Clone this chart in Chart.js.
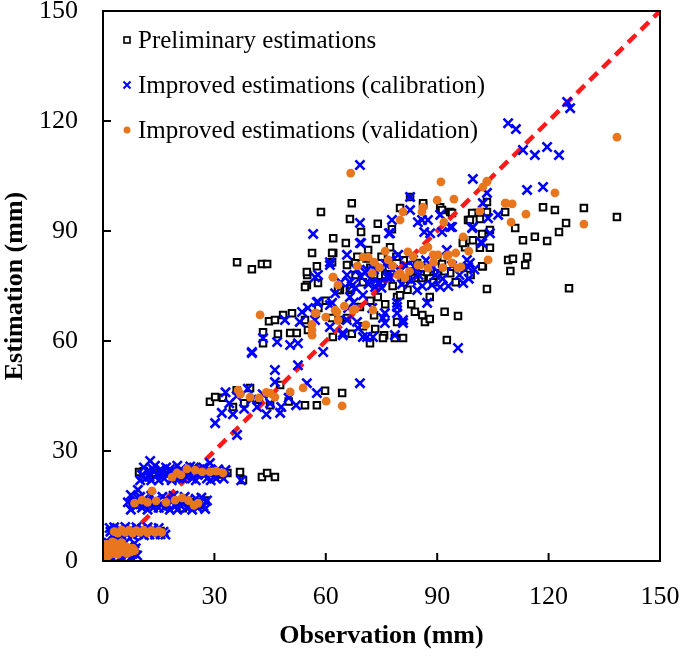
<!DOCTYPE html>
<html>
<head>
<meta charset="utf-8">
<script src="https://cdn.jsdelivr.net/npm/chart.js@4.4.0/dist/chart.umd.min.js"></script>
<style>
  html, body { margin: 0; padding: 0; background: #fff; }
  #wrap { width: 685px; height: 656px; }
</style>
</head>
<body>
<div id="wrap"><canvas id="chart"></canvas></div>
<script>
const xTicks = [0, 30, 60, 90, 120, 150];
const yTicks = [0, 30, 60, 90, 120, 150];
const seriesNames = ['Preliminary estimations', 'Improved estimations (calibration)', 'Improved estimations (validation)'];
const oneToOne = [[0, 0], [150, 150]];

// [observation, estimation] pairs
const preliminary = [
  [1,2],[2,4],[3,2.5],[4,3.5],[5,2],[6,3],[7,2.5],[8,3],[8.5,2],
  [4,8],[7,8],[10,8],[13,8],[15.5,8.2],
  [8,16],[11,15.5],[14,16],[17,15.5],[20,16],[21.5,14.4],[24.8,16],[26.5,15.2],[27.5,16.5],
  [9.7,24.3],[11,24.5],[14,24],[17,24.5],[20,24],[23,24.5],[26,24],[29,24],[32,23.6],[33.5,24],
  [36.9,24.3],[37.7,22.1],[42.8,22.9],[44.2,24],[46.3,22.9],
  [28.8,43.4],[30.2,44.7],[32.3,44.5],[36,46.6],[39.6,47.2],[47.7,48],[59.8,46.4],[64.4,45.8],[54.4,42.5],[57.6,42.5],[38,43],[42,44],[45,42.5],[50,43.5],[35,42],
  [43.1,62.4],[44.7,65.4],[46.3,65.7],[47.1,61.9],[48.5,67.1],[50.9,67.6],[50.4,62.2],[52.2,62.2],[54.4,65.7],[43.1,59.4],[54.9,75.3],[57.9,75.8],[63.8,73.9],[55.2,63],[61.9,61.1],[65.7,66.3],[63.8,65.7],[61.7,66.3],[69.2,69.3],[73.3,63.3],[71.9,59.4],[75.7,61.6],[78.6,60.8],[79.2,72],[86,67.1],[86.7,65.2],[92,68],[92.6,60.3],[95.6,66.8],[80.8,60.8],[75.4,60.8],[66.5,73.9],[63.3,73.9],[54.4,74.7],[55,78],[57.6,80.4],[61.7,81.5],[62,84],[65.7,80.7],[56.3,84],[61.7,84],[54.9,78.8],
  [36.1,81.5],[40.1,79.6],[42.8,81],[44.2,81],
  [67,97.6],[58.7,95.2],[66.5,93.3],[69.5,89.7],[73.5,87.8],[65.4,86.7],[77.3,85.6],[71.4,84.8],[67.9,81.5],[66.8,74.4],[80,96.3],[77.8,90.5],[82.7,99.3],[86.2,97.1],[90.8,96.5],[93.5,95.2],[98.3,93],[100.7,94.9],[108.3,95.2],[103.4,97.9],[111,90.8],[113.1,87.5],[116.3,88.4],[119.6,87.3],[118.5,96.5],[121.7,95.7],[124.7,92.2],[122.8,89.7],[129.5,96.3],[138.4,93.8],[125.5,74.4],[103.4,74.2],[109.1,82.1],[110.4,82.4],[109.7,79.1],[114.2,82.9],[113.7,80.7],[102.3,80.4],[104.2,90.3],[104.2,85.4],[97.5,85.6],[99.6,87.5],[97,87.5],[101.5,85.4],[102.1,89.2],[91.3,95.7],[94,94.9],[99.4,94.9],[98.8,93],[101.5,93.3],[103.4,95.2],[86.2,97.6],[84,77.2],[85.9,77.2],[88.1,77.2],[84.6,81.3],[90,82.1],[93.5,78.5],[96.9,86.7],[90,78.5],[91.3,81],[87.3,78.8],[102.1,80.4],[79.2,65.2],[80,72.5],
  [70,76],[72,80],[74,72],[76,78],[78,75],[82,74],[68,78],[83,70],[88,72],[73,67],[81,82],[75,83],
  [68.5,83],[71,82.5],[73,78],[75,76],[77,80],[79,83],[81,76],[83,79],[86,80],[89,76],[92,79],[95,76],[97,80],[99,78],[72,71],[76,70],[84,68],[88,66],[67,62],[70,64],[58,69],[60,71],[62,88],[74,92]
];

const calibration = [
  [0.5,1],[1,3],[1.5,5],[2,1.5],[2.5,4],[3,5.5],[3.5,2],[4,4.5],[5,1],[5.5,3.5],[6.5,1.5],[7,4],[8,2],[8.8,3.5],[9.2,1.5],[0.3,4.5],[4.5,0.8],[0.4,2.5],[6,5],[8.5,4.8],[7.5,1],[2.5,0.5],
  [2,8],[2.5,7],[3,9.2],[5,7],[6,9.3],[8,7],[9,9.2],[11,7],[12,9.2],[14,7.2],[15,9],[16.3,8],[16.8,7.2],[1.8,9],
  [3.5,7.8],[4.5,8.8],[6.5,7.2],[7.5,8.8],[9.5,7.3],[10.5,8.8],[12.5,7.2],[13.5,8.8],[15.5,7.3],
  [6.7,16],[7.5,14],[7.5,18],[9,15],[10,17.5],[12,14],[13,17.8],[15,14.5],[16,17.5],[18,14],[19,17.8],[21,15],[22,17.5],[24,14],[25,17],[27,15],[28,16.5],[8.5,16.5],[11.5,16],
  [8,15.5],[9.5,17],[10.5,14.5],[11,16.8],[12.5,15.5],[13.5,14.5],[14,16.5],[15.5,15.5],[16.5,14.5],[17,16.8],[17.5,15.2],[18.5,16.5],[19.5,15],[20,14],[20.5,16.5],[21.5,15.8],[22.5,14.5],[23,16.8],[24,15.5],[25.5,14.5],[26,16],[26.5,17.3],[27.5,14.2],
  [9.4,19.4],[12.7,27.3],[28.8,26.7],
  [10,22],[11,25.5],[12.5,23],[14,26],[15,22],[17,25.5],[18.5,22],[20,26],[21.5,22.5],[23.5,25.8],[25,22],[27,25.5],[28,22.5],[30,23],[31,25],[16,24],[22,24],[37.2,22],
  [10.5,23.5],[11.5,22.5],[12,24.5],[13,22],[13.5,25],[14.5,23.5],[15.5,25],[16.5,22.5],[17.5,23.5],[18,25],[19,23],[19.5,24.5],[20.5,22.5],[21,25],[22.5,23],[23,24.5],[24,22.5],[24.5,25.5],[25.5,23.5],[26,25],[27.5,23.5],[28.5,25],[29,22],[29.5,24],[30.5,22.5],[31.5,23.8],[32.5,22.5],[33,24.8],
  [30.2,37.6],[32,40.4],[36.1,34.4],[46.3,52.1],[52.5,53.4],[40.1,56.7],[46.3,48.8],[47.7,40.4],[54.9,48.5],[57.6,45.8],[69.2,48.5],[34,43],[36,45],[38,41.5],[40,44],[41.5,42],[43,45.5],[45,43],[48,42],[50,44.5],[52,42.5],[35,40],[33,46],[44,40],[39,47],
  [40.1,57],[43.1,60.8],[46.9,59.7],[50.4,58.9],[52.5,59.4],[49,65.7],[53.6,67.9],[57.9,70.6],[55.2,69],[59.3,57],[57.1,65.7],[61.1,63.8],[64.6,62.2],[61.1,69.8],[66,69],[53,65.2],[64.6,61.6],[68.7,63.5],[57.6,70.6],[61.7,70.4],[65.7,65.7],[68.4,65.2],[70,61.1],[72.7,61.1],[75.9,64.9],[78.6,61.6],[80.8,65.7],[75.9,67.6],[79.2,67.6],[79.2,70.4],[87.3,70.4],[74.6,75.8],[71.1,79.4],[68.4,79.4],[65.7,78],[57.9,78],[61.1,81.5],[56.6,89.2],[95.6,58.1],
  [69.2,108],[99.6,104.2],[82.7,99.3],[77.8,93],[85.9,93],[90.8,94.4],[93.5,91.1],[102.3,97.6],[99.6,91.1],[102.1,86.7],[106.4,94.4],[114.2,101.2],[118.5,102],[116.3,110.7],[113.1,112.1],[122.8,110.7],[119.6,112.9],[109.1,119.4],[111.2,117.8],[125,125.2],[125.8,123.5],
  [69.2,92.2],[77.3,89.4],[82.7,95.7],[88.1,89.4],[98.8,81.3],[97,75.8],[80.8,64.9],[79.2,69.3],[75.4,66.3],[71.1,61.1],[69.2,86.7],[77.3,82.1],[84.6,73.9],[90.8,74.7],[98,82.1],[88.9,80.2],[92.6,84.8],[74.1,75.8],[77.3,77.4],[83.5,82.1],[69.5,86.7],[77,89.4],[84.8,92.4],[65.7,83.5],[61.1,80.7],[57.1,77.4],[79.5,83.5],[70.6,78.8],[73.3,74.7],[76.5,77.4],[103.4,100.4],[103.7,93.5],[104.2,89.4],[94,91.1],[99.4,90.8],[101.8,87],[98.3,80.2],[93,75],[88.6,75.3],[91.3,89.7],[86.5,89.7],[87.5,93],[72,77],[80,79],[85,78],[67,75],[75,80],[82,77],
  [66.5,76],[68,74.5],[69.5,77.5],[71.5,75.5],[73,79.5],[75,74.5],[76,81],[78,79.5],[80.5,75.5],[81.5,80.5],[83,76.5],[84,80],[86,75],[87,82],[89.5,78],[91.5,77],[94,80.5],[96,78],[98.5,77],[100,79.5],[64,76],[62.5,73],[66.5,72],[70,72.5],[72.5,69],[67.5,70.5]
];

const validation = [
  [0.5,2.5],[1,4.5],[1.5,1.5],[2,3.5],[2.5,5.2],[3,2],[3.5,4],[4,1.8],[4.5,3.5],[5,5],[5.5,2.5],[6,4],[6.5,2],[7,3.5],[7.5,2.5],[8,3.5],[8.5,2.8],[1,1.2],[3,5],[4,3],
  [3,8],[4,7.6],[5,8.5],[6,7.8],[7,8.4],[8,7.6],[9,8.3],[10,7.8],[11,8.4],[12,7.7],[13,8.3],[14,7.8],[15,8.2],[15.8,7.8],
  [10.5,16.6],[14.3,16.4],[19.4,16.6],[21.3,17.2],[25.6,15.8],[8.5,15.8],[12,16],[17,16],[23,16.5],[13.2,19.1],[24.5,15.2],
  [19.9,24],[22.6,25.1],[24.8,24.8],[28.8,24.3],[32.3,24],[18.6,22.9],[26.7,24.3],[21,23.5],[30.5,24.5],
  [36.4,46.6],[39.6,44.7],[45,45.8],[46.3,44.7],[50.4,46.1],[53.9,47.2],[60.1,43.6],[64.4,42.3],[42,44.5],[44,46],[37,45.5],
  [42.3,67.1],[56.3,63],[56.3,61.6],[57.4,67.6],[63,67.9],[63.3,65.7],[67.3,68.4],[63.3,75.3],[62,77.4],[57.1,67.6],[62.5,68.4],[72.7,68.4],[70.8,64.4],[67.9,68.7],[56.3,64.5],
  [91,103.4],[66.7,105.8],[94.5,98.7],[90,98.4],[103.4,103.4],[102.3,102],[108.3,97.6],[110.2,97.4],[113.9,94.6],[109.9,92.4],[101.5,95.4],[91.8,92.4],[97,88.4],[103.7,82.1],[86.2,96.5],[80.8,95.2],[80,93],[85.9,95.2],[87.5,85.6],[86.2,84.8],[90.2,83.5],[92.6,83.2],[94,81.3],[95.6,79.9],[85.4,80.7],[87.5,79.9],[82.1,84.3],[79.4,78],[81.3,77.2],[76.8,82.1],[70,82.9],[71.4,82.9],[80,78.5],[84.8,80.7],[88.9,83.5],[96.4,80.2],[93,83.5],[61.9,77.4],
  [72.5,78.5],[74.5,80],[78,80.5],[82.5,79],[83.5,83],[89,81.5],[91.5,80],[95,84],[98.5,84.5],[76,84.5],[73,81.5],[68.5,80.5],[65,69.5],[60,66.5],
  [138.4,115.6],[121.7,100.4],[108.5,97.6],[129.5,91.9],[103.4,103.6]
];

const serif = "'Liberation Serif', 'Times New Roman', serif";
const toXY = pts => pts.map(([x, y]) => ({x, y}));

const styles = [
  {pointStyle: 'rect', pointRadius: 4.6, borderColor: '#000', backgroundColor: '#fff', borderWidth: 2},
  {pointStyle: 'crossRot', pointRadius: 6.5, borderColor: '#0000ff', backgroundColor: '#0000ff', borderWidth: 2.6},
  {pointStyle: 'circle', pointRadius: 4.4, borderColor: '#e8761e', backgroundColor: '#e8761e', borderWidth: 0}
];

// keep the plot area where the reference has it
const noPad = s => { s.paddingTop = 0; s.paddingBottom = 0; s.paddingLeft = 0; s.paddingRight = 0; };

const frameAndLegend = {
  id: 'frameAndLegend',
  afterDatasetsDraw(chart) {
    const {ctx, chartArea: a, scales: {x, y}} = chart;
    ctx.save();
    ctx.strokeStyle = '#000';
    ctx.lineWidth = 2;
    ctx.strokeRect(a.left, a.top, a.right - a.left, a.bottom - a.top);
    // inward tick marks
    ctx.beginPath();
    xTicks.slice(1, -1).forEach(v => {
      const px = x.getPixelForValue(v);
      ctx.moveTo(px, a.bottom);
      ctx.lineTo(px, a.bottom - 8);
    });
    yTicks.slice(1, -1).forEach(v => {
      const py = y.getPixelForValue(v);
      ctx.moveTo(a.left, py);
      ctx.lineTo(a.left + 8, py);
    });
    ctx.stroke();
    ctx.restore();
  },
  afterDraw(chart) {
    const {ctx, chartArea: a} = chart;
    ctx.save();
    ctx.font = '25px ' + serif;
    ctx.textBaseline = 'middle';
    seriesNames.forEach((name, i) => {
      const cy = a.top + 29 + i * 45;
      const mx = a.left + 24;
      if (i === 0) {
        ctx.strokeStyle = '#000';
        ctx.lineWidth = 1.6;
        ctx.strokeRect(mx - 3, cy - 3, 6, 6);
      } else if (i === 1) {
        ctx.strokeStyle = '#0000ff';
        ctx.lineWidth = 2;
        ctx.beginPath();
        ctx.moveTo(mx - 3.5, cy - 3.5); ctx.lineTo(mx + 3.5, cy + 3.5);
        ctx.moveTo(mx + 3.5, cy - 3.5); ctx.lineTo(mx - 3.5, cy + 3.5);
        ctx.stroke();
      } else {
        ctx.fillStyle = '#e8761e';
        ctx.beginPath();
        ctx.arc(mx, cy, 3.5, 0, Math.PI * 2);
        ctx.fill();
      }
      ctx.fillStyle = '#000';
      ctx.fillText(name, a.left + 35, cy + 1);
    });
    ctx.restore();
  }
};

const ctx = document.getElementById('chart').getContext('2d');
new Chart(ctx, {
  type: 'scatter',
  data: {
    datasets: [
      Object.assign({label: seriesNames[0], data: toXY(preliminary), order: 3}, styles[0]),
      Object.assign({label: seriesNames[1], data: toXY(calibration), order: 1}, styles[1]),
      Object.assign({label: seriesNames[2], data: toXY(validation), order: 0}, styles[2]),
      {
        type: 'line', label: '1:1', data: toXY(oneToOne), order: 2,
        borderColor: '#ff1a1a', borderWidth: 4.5, borderDash: [11, 7],
        pointRadius: 0, fill: false
      }
    ]
  },
  options: {
    responsive: true,
    maintainAspectRatio: false,
    animation: false,
    events: [],
    layout: {padding: {left: 0, top: 11, right: 25, bottom: 0}},
    plugins: {legend: {display: false}, tooltip: {enabled: false}},
    scales: {
      x: {
        type: 'linear', min: 0, max: 150,
        afterBuildTicks: s => { s.ticks = xTicks.map(v => ({value: v})); },
        afterFit: s => { s.height = 95; noPad(s); },
        grid: {drawOnChartArea: false, drawTicks: false},
        border: {display: true, color: '#000', width: 2},
        ticks: {color: '#000', padding: 21, maxRotation: 0, font: {family: serif, size: 26}},
        title: {display: true, text: 'Observation (mm)', color: '#000', padding: {top: 0, bottom: 4},
          font: {family: serif, size: 26, weight: 'bold'}}
      },
      y: {
        type: 'linear', min: 0, max: 150,
        afterBuildTicks: s => { s.ticks = yTicks.map(v => ({value: v})); },
        afterFit: s => { s.width = 103; noPad(s); },
        grid: {drawOnChartArea: false, drawTicks: false},
        border: {display: true, color: '#000', width: 2},
        ticks: {color: '#000', padding: 25, font: {family: serif, size: 26}},
        title: {display: true, text: 'Estimation (mm)', color: '#000', padding: {top: 0, bottom: 0},
          font: {family: serif, size: 26, weight: 'bold'}}
      }
    }
  },
  plugins: [frameAndLegend]
});
</script>
</body>
</html>
